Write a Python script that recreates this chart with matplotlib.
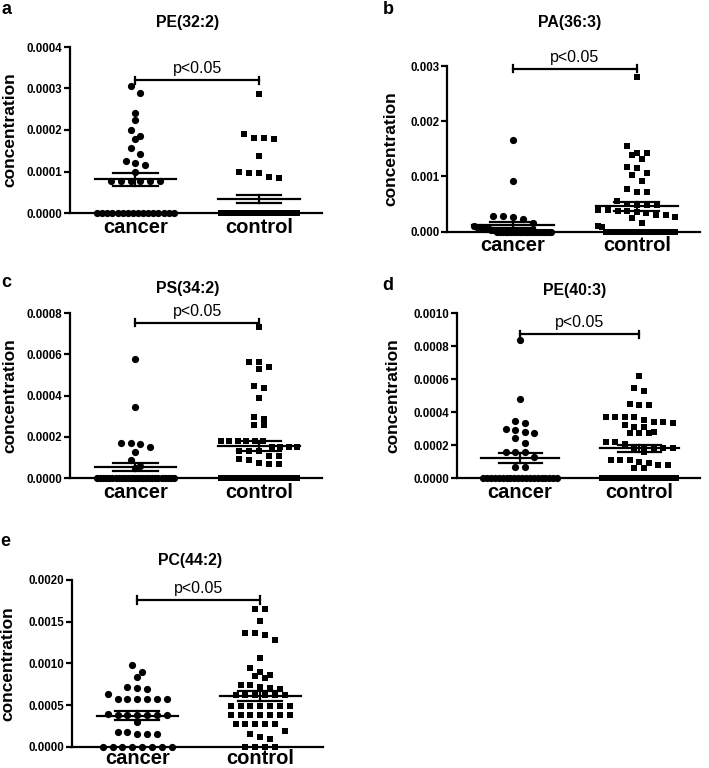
import numpy as np
import matplotlib
matplotlib.use("Agg")
import matplotlib.pyplot as plt
from matplotlib.ticker import FormatStrFormatter

plt.rcParams['font.family'] = ['Liberation Sans', 'DejaVu Sans']

# values (zeros = samples below detection)
groups = ["cancer", "control"]

pe32_cancer = [0.000306, 0.00029, 0.000242, 0.000224, 0.0002, 0.000186, 0.000178,
               0.000156, 0.000142, 0.000126, 0.00012, 0.000116, 0.0001,
               0.000078, 0.000078, 0.000078, 0.000078, 0.000078, 0.000078] + [0.0] * 16
pe32_control = [0.000287, 0.00019, 0.00018, 0.000178, 0.00018, 0.000137, 0.0001,
                0.000097, 0.000097, 0.000087, 0.000085] + [0.0] * 37

pa36_cancer = [0.00166, 0.00092, 0.00029, 0.00028, 0.00026, 0.00023, 0.00016, 0.0001,
               0.00009, 0.00008, 0.00007, 0.00005, 0.00004, 0.00003, 0.00002] + [0.0] * 20
pa36_control = [0.0028, 0.00155, 0.00143, 0.00143, 0.00139, 0.00131, 0.00117, 0.00115,
                0.00106, 0.00103, 0.00091, 0.00077, 0.00072, 0.00072, 0.00055, 0.0005,
                0.00048, 0.00048, 0.00048, 0.00039, 0.00039, 0.00037, 0.00037, 0.00036,
                0.00034, 0.0003, 0.0003, 0.00026, 0.00024, 0.00015, 0.0001, 0.00009] + [0.0] * 20

ps34_cancer = [0.000578, 0.000347, 0.000172, 0.000172, 0.000166, 0.000153, 0.000129,
               0.000089, 0.00006, 0.00005] + [0.0] * 26
ps34_control = [0.000731, 0.000565, 0.000562, 0.00054, 0.000529, 0.000447, 0.000436,
                0.000387, 0.000298, 0.000287, 0.000258, 0.000258,
                0.00018, 0.00018, 0.00018, 0.00018, 0.00018, 0.00018,
                0.000153, 0.000153, 0.000153, 0.000153, 0.000132, 0.000132, 0.000132,
                0.000108, 0.000108, 0.000092, 0.000089, 0.000074, 0.00007, 0.000068] + [0.0] * 19

pe40_cancer = [0.00084, 0.000479, 0.000347, 0.000333, 0.0003, 0.00029, 0.00028, 0.000276,
               0.000246, 0.000216, 0.000161, 0.000161, 0.000158, 0.000127,
               0.000067, 0.000067] + [0.0] * 20
pe40_control = [0.00062, 0.000545, 0.000529, 0.000448, 0.000444, 0.000444,
                0.000373, 0.000373, 0.000373, 0.000373, 0.000353, 0.000343, 0.000343,
                0.000337, 0.000323, 0.000313, 0.000313, 0.00028, 0.000273, 0.000273,
                0.000273, 0.000222, 0.000222, 0.000208, 0.000192, 0.000182, 0.000182,
                0.000182, 0.000182, 0.000172, 0.000161, 0.000111, 0.000111, 0.000111,
                0.000101, 0.000091, 0.000081, 0.000081, 0.000061, 0.000061] + [0.0] * 19

pc44_cancer = [0.00098, 0.0009, 0.00084, 0.00072, 0.00071, 0.00069, 0.00063,
               0.00057, 0.00057, 0.00057, 0.00057, 0.00057, 0.00057, 0.00039,
               0.00038, 0.00038, 0.00038, 0.00038, 0.00038, 0.00038, 0.0003,
               0.00018, 0.00018, 0.00015, 0.00015, 0.00015] + [0.0] * 8
pc44_control = [0.00165, 0.00165, 0.00151, 0.00137, 0.00137, 0.00134, 0.00128, 0.00107,
                0.00094, 0.0009, 0.00086, 0.00085, 0.00083, 0.00074, 0.00074, 0.00072,
                0.00071, 0.00069, 0.00062, 0.00062, 0.00062, 0.00062, 0.00062, 0.00062,
                0.00049, 0.00049, 0.00049, 0.00049, 0.00049, 0.00049, 0.00049,
                0.00038, 0.00038, 0.00038, 0.00038, 0.00038, 0.00038, 0.00038,
                0.00027, 0.00027, 0.00027, 0.00027, 0.00027,
                0.00019, 0.00015, 0.00012, 0.00009] + [0.0] * 4

letters = ["a", "b", "c", "d", "e"]
titles = ["PE(32:2)", "PA(36:3)", "PS(34:2)", "PE(40:3)", "PC(44:2)"]
panel_data = [(pe32_cancer, pe32_control), (pa36_cancer, pa36_control),
              (ps34_cancer, ps34_control), (pe40_cancer, pe40_control),
              (pc44_cancer, pc44_control)]
ymax = [0.0004, 0.003, 0.0008, 0.0010, 0.0020]
ystep = [0.0001, 0.001, 0.0002, 0.0002, 0.0005]
yfmt = ['%.4f', '%.3f', '%.4f', '%.4f', '%.4f']
bracket_y = [0.00032, 0.00295, 0.000753, 0.000873, 0.00176]

# layout, in pixels of the 709x768 image
W, H = 709, 768
axes_px = [(70, 47, 322, 213), (447, 66, 700, 231.5), (70, 313, 322, 478.3),
           (457, 313.3, 700, 478.3), (72, 580, 323, 746.7)]
title_px = [(188, 23), (570, 23), (188, 288), (575, 291), (190, 560)]
letter_px = [(6, 10), (388, 9), (6, 283), (388, 286), (5, 542)]
ylabel_px = [17, 398, 17, 400, 15]
xlabel_pad = [3.5, 3.5, 3.5, 3.5, 1.5]

XLIM = (0.47, 2.51)
DX = 0.08        # gap between neighbouring points in a row
MAXHALF = 0.31   # widest half-width of a row
LW = 1.6


def swarm_x(vals, center, binh):
    v = np.sort(np.asarray(vals))[::-1]
    xs, ys = [], []
    i = 0
    while i < len(v):
        j = i
        while j < len(v) and v[i] - v[j] <= binh:
            j += 1
        k = j - i
        dx = DX
        if k > 1 and (k - 1) * dx > 2 * MAXHALF:
            dx = 2 * MAXHALF / (k - 1)
        off = (np.arange(k) - (k - 1) / 2) * dx
        xs.extend(center + off)
        ys.extend(v[i:j])
        i = j
    return np.array(xs), np.array(ys)


fig = plt.figure(figsize=(W / 100, H / 100), dpi=100)

for p in range(5):
    l, t, r, b = axes_px[p]
    ax = fig.add_axes([l / W, 1 - b / H, (r - l) / W, (b - t) / H])
    top = ymax[p]
    binh = top * 0.045

    for gi, vals in enumerate(panel_data[p]):
        c = gi + 1
        xs, ys = swarm_x(vals, c, binh)
        ax.plot(xs, ys, 'o' if gi == 0 else 's', ms=5.2 if gi == 0 else 5,
                color='black', mew=0, clip_on=False, zorder=3)
        arr = np.asarray(vals)
        m = arr.mean()
        sem = arr.std(ddof=1) / np.sqrt(len(arr))
        ax.plot([c - 0.33, c + 0.33], [m, m], color='black', lw=LW, zorder=4)
        ax.plot([c - 0.18, c + 0.18], [m + sem, m + sem], color='black', lw=LW, zorder=4)
        ax.plot([c - 0.18, c + 0.18], [m - sem, m - sem], color='black', lw=LW, zorder=4)
        ax.plot([c, c], [m - sem, m + sem], color='black', lw=LW, zorder=4)

    # significance bracket
    by = bracket_y[p]
    cap = top * 0.022
    ax.plot([1, 2], [by, by], color='black', lw=LW, clip_on=False)
    ax.plot([1, 1], [by - cap, by + cap], color='black', lw=LW, clip_on=False)
    ax.plot([2, 2], [by - cap, by + cap], color='black', lw=LW, clip_on=False)
    ax.text(1.5, by + top * 0.025, "p<0.05", ha='center', va='bottom', fontsize=11.5)

    ax.set_xlim(*XLIM)
    ax.set_ylim(0, top)
    ax.set_yticks(np.arange(0, top + ystep[p] / 2, ystep[p]))
    ax.yaxis.set_major_formatter(FormatStrFormatter(yfmt[p]))
    ax.set_xticks([1, 2])
    ax.set_xticklabels(groups, fontsize=14.5, fontweight='bold')
    ax.tick_params(axis='x', length=0, pad=xlabel_pad[p])
    ax.tick_params(axis='y', length=4, width=LW, labelsize=8.3, pad=1.5)
    for lab in ax.get_yticklabels():
        lab.set_fontweight('bold')
    for s in ['top', 'right']:
        ax.spines[s].set_visible(False)
    for s in ['left', 'bottom']:
        ax.spines[s].set_linewidth(LW)
    ax.set_ylabel("concentration", fontsize=12.5, fontweight='bold')
    ax.yaxis.set_label_coords((ylabel_px[p] - l) / (r - l), 0.5)

    tx, ty = title_px[p]
    fig.text(tx / W, 1 - ty / H, titles[p], ha='center', va='center',
             fontsize=11.4, fontweight='bold')
    lx, ly = letter_px[p]
    fig.text(lx / W, 1 - ly / H, letters[p], ha='center', va='center',
             fontsize=13, fontweight='bold')

fig.savefig("out.png", dpi=100)
